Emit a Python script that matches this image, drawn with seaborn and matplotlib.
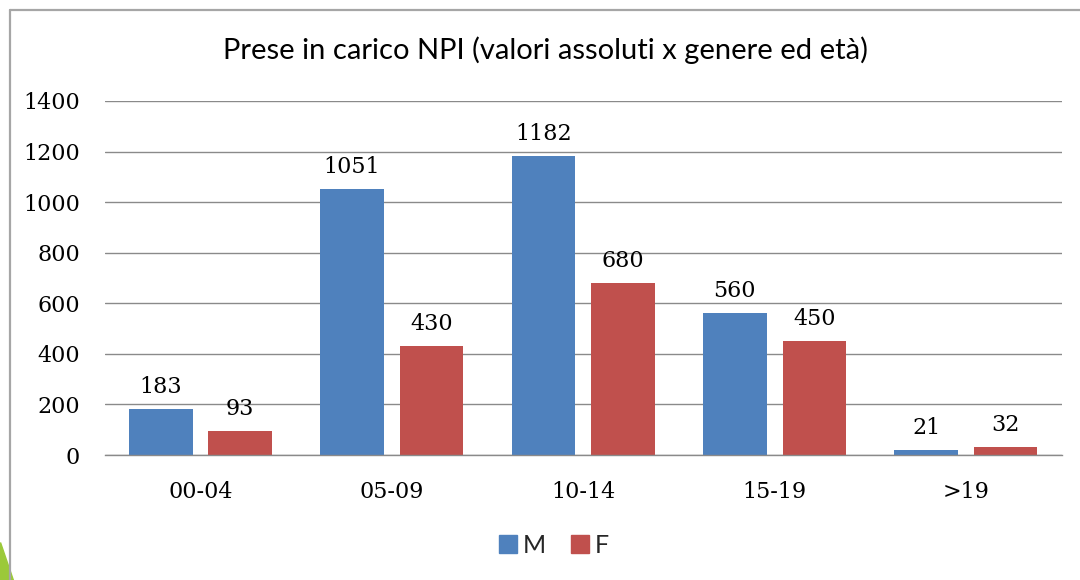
import matplotlib
matplotlib.use("Agg")
import matplotlib.pyplot as plt
import matplotlib.lines as mlines
import matplotlib.patches as mpatches
import pandas as pd
import seaborn as sns

sns.set_theme(style="white")

age_groups = ["00-04", "05-09", "10-14", "15-19", ">19"]
males = [183, 1051, 1182, 560, 21]
females = [93, 430, 680, 450, 32]
sexes = ["M", "F"]
colors = {"M": "#4F81BD", "F": "#C0504D"}

df = pd.DataFrame({
    "age": age_groups * 2,
    "sex": ["M"] * len(age_groups) + ["F"] * len(age_groups),
    "count": males + females,
})

fig = plt.figure(figsize=(10.8, 5.8), dpi=100)
ax = fig.add_axes([0.097, 0.2155, 0.886, 0.6105])

sns.barplot(data=df, x="age", y="count", hue="sex", hue_order=sexes,
            palette=colors, width=0.83, gap=0.2, saturation=1,
            edgecolor="none", ax=ax, legend=False)

ax.set_ylim(0, 1400)
ax.set_xlim(-0.5, 4.5)
ax.set_yticks(range(0, 1401, 200))
ax.yaxis.grid(True, color="#8a8a8a", linewidth=1)
ax.set_axisbelow(True)
for s in ["top", "right", "left"]:
    ax.spines[s].set_visible(False)
ax.spines["bottom"].set_color("#8a8a8a")
ax.spines["bottom"].set_linewidth(1)
ax.set_xlabel("")
ax.set_ylabel("")
ax.tick_params(axis="y", length=0, pad=18, labelsize=16)
ax.tick_params(axis="x", length=0, pad=19, labelsize=16)
for lbl in ax.get_xticklabels() + ax.get_yticklabels():
    lbl.set_family("DejaVu Serif")
    lbl.set_color("#000000")

for cont in ax.containers:
    ax.bar_label(cont, padding=8, fontsize=16, family="DejaVu Serif",
                 color="#000000")

fig.text(0.505, 0.913, "Prese in carico NPI (valori assoluti x genere ed età)",
         ha="center", va="center", fontsize=21, family="Lato", color="#000000")

handles = [mpatches.Patch(color=colors[s], label=s) for s in sexes]
fig.legend(handles=handles, loc="center", bbox_to_anchor=(0.513, 0.06),
           ncol=2, frameon=False, prop={"family": "Lato", "size": 18},
           handlelength=0.7, handleheight=0.7, handletextpad=0.25,
           columnspacing=1.0)

# outer chart border and slide decoration
fig.add_artist(mlines.Line2D([0.0093, 0.0093], [0, 0.983], color="#a6a6a6",
                             linewidth=1.6, transform=fig.transFigure))
fig.add_artist(mlines.Line2D([0.0093, 1], [0.983, 0.983], color="#a6a6a6",
                             linewidth=1.6, transform=fig.transFigure))
fig.add_artist(mpatches.Polygon([[0, 0.065], [0, 0], [0.012, 0]],
                                closed=True, color="#9BC93A",
                                transform=fig.transFigure))

fig.savefig("out.png", dpi=100)
